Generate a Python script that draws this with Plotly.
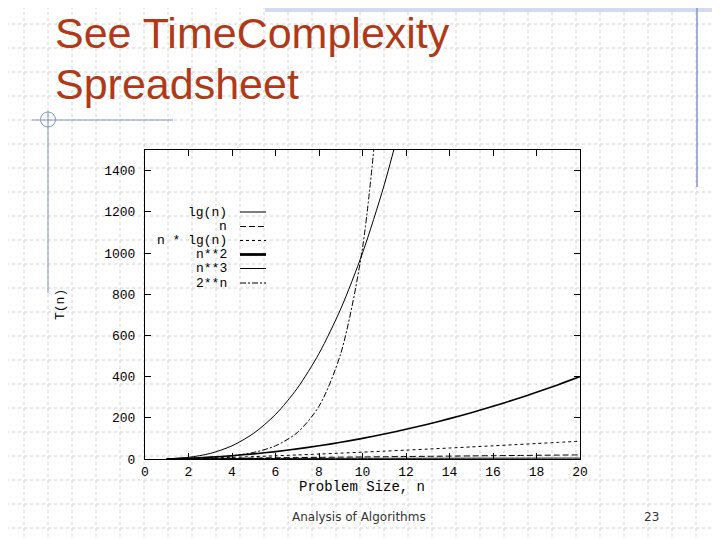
import plotly.graph_objects as go

# ---------------- data ----------------
n_vals = [1, 2, 3, 4, 5, 6, 7, 8, 9, 10, 11, 12, 13, 14, 15, 16, 17, 18, 19, 20]
lg_n = [0, 1, 1.58, 2, 2.32, 2.58, 2.81, 3, 3.17, 3.32, 3.46, 3.58, 3.70, 3.81,
        3.91, 4, 4.09, 4.17, 4.25, 4.32]
lin_n = [1, 2, 3, 4, 5, 6, 7, 8, 9, 10, 11, 12, 13, 14, 15, 16, 17, 18, 19, 20]
n_lg_n = [0, 2, 4.75, 8, 11.6, 15.5, 19.7, 24, 28.5, 33.2, 38.1, 43, 48.1, 53.3,
          58.6, 64, 69.5, 75.1, 80.7, 86.4]
n_sq = [1, 4, 9, 16, 25, 36, 49, 64, 81, 100, 121, 144, 169, 196, 225, 256, 289,
        324, 361, 400]
n_cube_x = [1, 2, 3, 4, 5, 6, 7, 8, 9, 10, 11, 12]
n_cube = [1, 8, 27, 64, 125, 216, 343, 512, 729, 1000, 1331, 1728]
two_n_x = [1, 2, 3, 4, 5, 6, 7, 8, 9, 10, 11]
two_n = [2, 4, 8, 16, 32, 64, 128, 256, 512, 1024, 2048]

x_ticks = [0, 2, 4, 6, 8, 10, 12, 14, 16, 18, 20]
y_ticks = [0, 200, 400, 600, 800, 1000, 1200, 1400]
legend_labels = ["lg(n)", "n", "n * lg(n)", "n**2", "n**3", "2**n"]

# ---------------- layout constants (screen pixels) ----------------
OFF = 8                                  # page body margin of the browser
W, H = 720, 540
L, R, T, B = 145, 580, 150, 459          # plot frame in screen pixels
MONO = "Liberation Mono"
BLUE = "#8494c4"

trace_styles = [
    dict(width=1, dash="solid"),
    dict(width=1, dash="6px,3px"),
    dict(width=1, dash="3px,3px"),
    dict(width=1.6, dash="solid"),
    dict(width=1, dash="solid"),
    dict(width=1, dash="6px,2px,2px,2px"),
]
legend_widths = [1, 1, 1, 2.8, 1, 1]

def px(x):
    return (x - L) / (R - L)

def py(y):
    return (B - y) / (B - T)

fig = go.Figure()
series = [(n_vals, lg_n), (n_vals, lin_n), (n_vals, n_lg_n), (n_vals, n_sq),
          (n_cube_x, n_cube), (two_n_x, two_n)]
for (xs, ys), st, name in zip(series, trace_styles, legend_labels):
    fig.add_trace(go.Scatter(x=xs, y=ys, mode="lines", name=name,
                             line=dict(color="black", shape="spline",
                                       smoothing=0.8, **st),
                             showlegend=False, hoverinfo="skip"))

shapes = []
# slide background grid
for gx in range(0, W + 1, 24):
    shapes.append(dict(type="line", xref="paper", yref="paper",
                       x0=px(gx), x1=px(gx), y0=py(0), y1=py(H),
                       line=dict(color="#d2d2d2", width=1, dash="dot"),
                       layer="below"))
for gy in range(0, H + 1, 24):
    shapes.append(dict(type="line", xref="paper", yref="paper",
                       x0=px(0), x1=px(W), y0=py(gy), y1=py(gy),
                       line=dict(color="#d2d2d2", width=1, dash="dot"),
                       layer="below"))
# top band
shapes.append(dict(type="rect", xref="paper", yref="paper",
                   x0=px(265), x1=px(W), y0=py(0), y1=py(12),
                   fillcolor="#d3dcef", line=dict(width=0), layer="below"))
# blue decorations
shapes.append(dict(type="line", xref="paper", yref="paper",
                   x0=px(697), x1=px(697), y0=py(0), y1=py(187),
                   line=dict(color=BLUE, width=1.5)))
shapes.append(dict(type="line", xref="paper", yref="paper",
                   x0=px(32), x1=px(173), y0=py(120), y1=py(120),
                   line=dict(color=BLUE, width=1)))
shapes.append(dict(type="line", xref="paper", yref="paper",
                   x0=px(48), x1=px(48), y0=py(111), y1=py(293),
                   line=dict(color=BLUE, width=1)))
shapes.append(dict(type="circle", xref="paper", yref="paper",
                   x0=px(40.5), x1=px(55.5), y0=py(112), y1=py(127),
                   line=dict(color=BLUE, width=1)))

annotations = []
# legend (gnuplot style: text left, sample right)
row_y = [212, 226.5, 240.5, 254.5, 268.5, 283]
for lab, st, lw, yy in zip(legend_labels, trace_styles, legend_widths, row_y):
    annotations.append(dict(text=lab, xref="paper", yref="paper",
                            x=px(229), y=py(yy), xanchor="right", yanchor="middle",
                            showarrow=False, font=dict(family=MONO, size=13,
                                                       color="black")))
    shapes.append(dict(type="line", xref="paper", yref="paper",
                       x0=px(240), x1=px(266), y0=py(yy), y1=py(yy),
                       line=dict(color="black", width=lw, dash=st["dash"])))

# axis titles
annotations.append(dict(text="Problem Size, n", xref="paper", yref="paper",
                        x=px(362), y=py(487), xanchor="center", yanchor="middle",
                        showarrow=False, font=dict(family=MONO, size=14, color="black")))
annotations.append(dict(text="T(n)", xref="paper", yref="paper", textangle=-90,
                        x=px(60), y=py(305), xanchor="center", yanchor="middle",
                        showarrow=False, font=dict(family=MONO, size=13, color="black")))
# slide title
for txt, yy in [("See TimeComplexity", 33), ("Spreadsheet", 84)]:
    annotations.append(dict(text=txt, xref="paper", yref="paper",
                            x=px(53), y=py(yy), xanchor="left", yanchor="middle",
                            showarrow=False,
                            font=dict(family="Liberation Sans", size=43,
                                      color="#B03A18")))
# footer
annotations.append(dict(text="Analysis of Algorithms", xref="paper", yref="paper",
                        x=px(359), y=py(517), xanchor="center", yanchor="middle",
                        showarrow=False, font=dict(family="DejaVu Sans", size=12,
                                                   color="#333333")))
annotations.append(dict(text="23", xref="paper", yref="paper",
                        x=px(651), y=py(517), xanchor="center", yanchor="middle",
                        showarrow=False, font=dict(family="DejaVu Sans", size=12,
                                                   color="#333333")))

axis_common = dict(showline=True, linecolor="black", linewidth=1, mirror="allticks",
                   ticks="inside", ticklen=6, tickcolor="black", showgrid=False,
                   zeroline=False, tickfont=dict(family=MONO, size=13, color="black"))

fig.update_layout(
    width=W - OFF, height=H - OFF, autosize=False,
    margin=dict(l=L - OFF, r=W - R, t=T - OFF, b=H - B, pad=0),
    paper_bgcolor="white", plot_bgcolor="rgba(0,0,0,0)",
    xaxis=dict(range=[0, 20], tickvals=x_ticks, ticktext=[str(v) for v in x_ticks],
               **axis_common),
    yaxis=dict(range=[0, 1500], tickvals=y_ticks, ticktext=[str(v) for v in y_ticks],
               ticklabelstandoff=6, **axis_common),
    shapes=shapes, annotations=annotations, showlegend=False,
)

fig.write_html("out.html")
